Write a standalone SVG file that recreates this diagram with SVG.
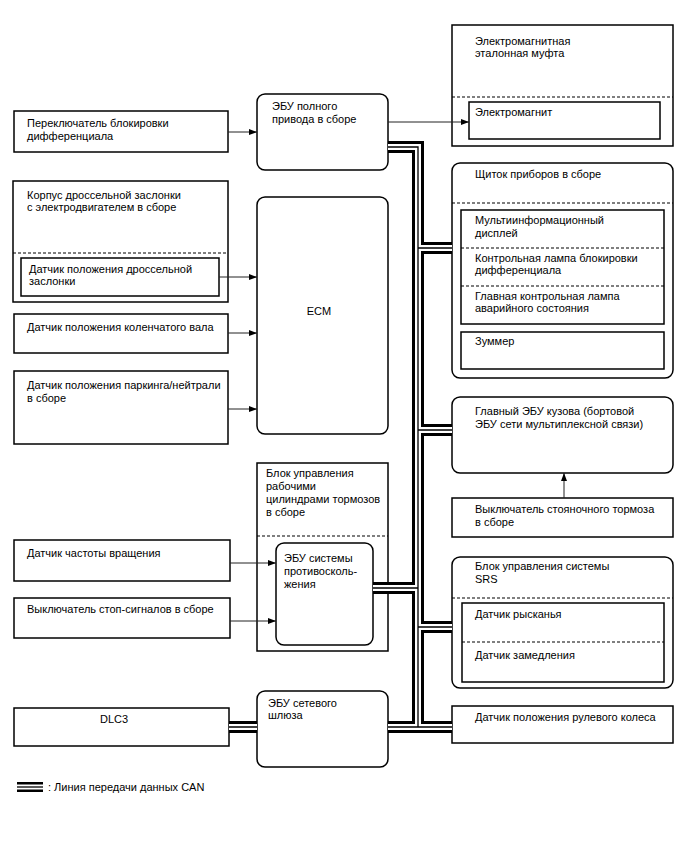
<svg xmlns="http://www.w3.org/2000/svg" width="688" height="852" viewBox="0 0 688 852">
<defs>
<style>
text{font-family:"Liberation Sans",Arial,sans-serif;font-size:11px;fill:#000}
.b{fill:#fff;stroke:#000;stroke-width:1.5}
.d{stroke:#000;stroke-width:1.2;stroke-dasharray:3 2;fill:none}
.a{stroke:#222;stroke-width:1;fill:none;marker-end:url(#ah)}
.co{stroke:#000;stroke-width:12;fill:none;stroke-linejoin:miter}
.cw{stroke:#fff;stroke-width:6;fill:none;stroke-linejoin:miter}
.ci{stroke:#000;stroke-width:1.3;fill:none;stroke-linejoin:miter}
</style>
<marker id="ah" markerUnits="userSpaceOnUse" markerWidth="8" markerHeight="6" refX="8" refY="3" orient="auto">
<path d="M0,0 L8,3 L0,6 z" fill="#000"/>
</marker>
</defs>
<rect width="688" height="852" fill="#fff"/>

<g id="diff-lock-switch"><rect class="b" x="14" y="111" width="214" height="41"/><text x="27" y="127">Переключатель блокировки</text><text x="27" y="140">дифференциала</text></g>

<g id="throttle-body"><rect class="b" x="13" y="181" width="215" height="121"/><text x="27" y="199">Корпус дроссельной заслонки</text><text x="27" y="211">с электродвигателем в сборе</text><line class="d" x1="13" y1="253" x2="228" y2="253"/>
<g id="throttle-sensor"><rect class="b" x="21" y="258" width="198" height="38"/><text x="29" y="273">Датчик положения дроссельной</text><text x="29" y="285">заслонки</text></g></g>

<g id="crank-sensor"><rect class="b" x="14" y="314" width="214" height="39"/><text x="27" y="331">Датчик положения коленчатого вала</text></g>

<g id="park-neutral"><rect class="b" x="14" y="371" width="214" height="73"/><text x="27" y="389">Датчик положения паркинга/нейтрали</text><text x="27" y="402">в сборе</text></g>

<g id="speed-sensor"><rect class="b" x="14" y="540" width="216" height="41"/><text x="27" y="557">Датчик частоты вращения</text></g>

<g id="stop-switch"><rect class="b" x="14" y="598" width="216" height="40"/><text x="27" y="613">Выключатель стоп-сигналов в сборе</text></g>

<g id="dlc3"><rect class="b" x="14" y="708" width="215" height="38"/><text x="114" y="723" text-anchor="middle">DLC3</text></g>

<g id="awd-ecu"><rect class="b" x="257" y="94" width="131" height="76" rx="8"/><text x="272" y="110">ЭБУ полного</text><text x="272" y="123">привода в сборе</text></g>

<g id="ecm"><rect class="b" x="257" y="197" width="131" height="237" rx="8"/><text x="319" y="315" text-anchor="middle">ECM</text></g>

<g id="brake-actuator"><rect class="b" x="257" y="463" width="131" height="188"/><text x="266" y="477">Блок управления</text><text x="266" y="490">рабочими</text><text x="266" y="503">цилиндрами тормозов</text><text x="266" y="516">в сборе</text><line class="d" x1="257" y1="536" x2="388" y2="536"/>
<g id="abs-ecu"><rect class="b" x="276" y="543" width="97" height="102" rx="8"/><text x="284" y="562">ЭБУ системы</text><text x="284" y="575">противосколь-</text><text x="284" y="588">жения</text></g></g>

<g id="gateway-ecu"><rect class="b" x="257" y="691" width="131" height="76" rx="8"/><text x="268" y="707">ЭБУ сетевого</text><text x="268" y="719">шлюза</text></g>

<g id="clutch"><rect class="b" x="452" y="25" width="221" height="121"/><text x="475" y="45">Электромагнитная</text><text x="475" y="57">эталонная муфта</text><line class="d" x1="452" y1="97" x2="673" y2="97"/>
<g id="solenoid"><rect class="b" x="469" y="102" width="191" height="37"/><text x="475" y="116">Электромагнит</text></g></g>

<g id="combination-meter"><rect class="b" x="452" y="163" width="221" height="215" rx="8"/><text x="475" y="178">Щиток приборов в сборе</text><line class="d" x1="452" y1="203" x2="673" y2="203"/>
<rect class="b" x="461" y="210" width="203" height="114"/>
<text x="475" y="224">Мультиинформационный</text><text x="475" y="237">дисплей</text><line class="d" x1="461" y1="248" x2="664" y2="248"/>
<text x="475" y="262">Контрольная лампа блокировки</text><text x="475" y="274">дифференциала</text><line class="d" x1="461" y1="286" x2="664" y2="286"/>
<text x="475" y="300">Главная контрольная лампа</text><text x="475" y="312">аварийного состояния</text>
<g id="buzzer"><rect class="b" x="461" y="332" width="203" height="37"/><text x="475" y="345">Зуммер</text></g></g>

<g id="main-body-ecu"><rect class="b" x="452" y="397" width="221" height="76" rx="8"/><text x="475" y="415">Главный ЭБУ кузова (бортовой</text><text x="475" y="428">ЭБУ сети мультиплексной связи)</text></g>

<g id="parking-brake-switch"><rect class="b" x="452" y="498" width="221" height="39"/><text x="475" y="513">Выключатель стояночного тормоза</text><text x="475" y="526">в сборе</text></g>

<g id="srs"><rect class="b" x="452" y="557" width="221" height="131" rx="8"/><text x="475" y="570">Блок управления системы</text><text x="475" y="583">SRS</text><line class="d" x1="452" y1="598" x2="673" y2="598"/>
<rect class="b" x="462" y="603" width="202" height="79"/><text x="475" y="618">Датчик рысканья</text><line class="d" x1="462" y1="642" x2="664" y2="642"/><text x="475" y="659">Датчик замедления</text></g>

<g id="steering-sensor"><rect class="b" x="452" y="706" width="221" height="37"/><text x="475" y="721">Датчик положения рулевого колеса</text></g>

<g id="connectors">
<line class="a" x1="228" y1="132" x2="257" y2="132"/>
<line class="a" x1="219" y1="277" x2="257" y2="277"/>
<line class="a" x1="228" y1="333" x2="257" y2="333"/>
<line class="a" x1="228" y1="409" x2="257" y2="409"/>
<line class="a" x1="230" y1="563" x2="276" y2="563"/>
<line class="a" x1="230" y1="621" x2="276" y2="621"/>
<line class="a" x1="388" y1="122" x2="469" y2="122"/>
<line class="a" x1="564" y1="498" x2="564" y2="473"/>
<g id="can-bus">
<path class="co" d="M388,147 H418 V727 M418,248 H452 M418,430 H452 M373,588 H418 M418,627 H452 M388,727 H452 M229,727 H257"/>
<path class="cw" d="M388,147 H418 V727 M418,248 H452 M418,430 H452 M373,588 H418 M418,627 H452 M388,727 H452 M229,727 H257"/>
<path class="ci" d="M388,147 H418 V727 M418,248 H452 M418,430 H452 M373,588 H418 M418,627 H452 M388,727 H452 M229,727 H257"/>
</g>
</g>

<g id="legend">
<path class="co" d="M17,787 H43" style="stroke-width:10"/>
<path class="cw" d="M17,787 H43" style="stroke-width:5"/>
<path class="ci" d="M17,787 H43"/>
<text x="48" y="791">: Линия передачи данных CAN</text>
</g>
</svg>
